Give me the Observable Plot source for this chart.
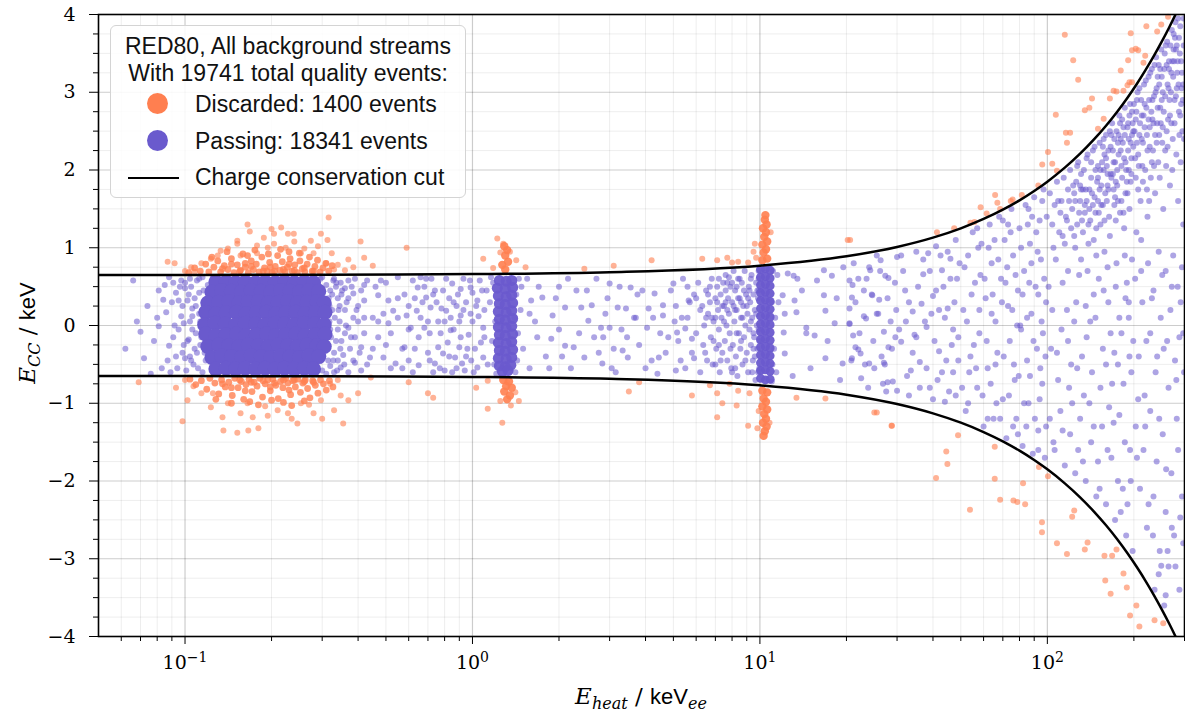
<!DOCTYPE html>
<html><head><meta charset="utf-8">
<script src="https://cdn.jsdelivr.net/npm/d3@7"></script>
<script src="https://cdn.jsdelivr.net/npm/@observablehq/plot@0.6"></script>
<style>
body{margin:0;background:#fff;}
#wrap{position:relative;width:1185px;height:715px;overflow:hidden;}
#legend{position:absolute;left:110px;top:25px;width:356px;height:173px;border:1.5px solid #d4d4d4;border-radius:6px;background:rgba(255,255,255,0.85);font-family:"Liberation Sans",sans-serif;font-size:23px;color:#111;box-sizing:border-box;}
#legend .t{position:absolute;left:0;width:100%;text-align:center;height:28px;line-height:28px;white-space:nowrap;}
#legend .r{position:absolute;left:84px;height:28px;line-height:28px;white-space:nowrap;}
#legend .c{position:absolute;left:36px;width:21px;height:21px;border-radius:50%;}
#legend .l{position:absolute;left:17px;width:51px;height:0;border-top:2.5px solid #000;}
</style></head><body><div id="wrap"></div>
<script>
// ---- data (x = E_heat in keV_ee, y = E_CC in keV) ----
const P = s => s.trim().split(/\s+/).map(t => t.split(",").map(Number));

const legendTitle = ["RED80, All background streams", "With 19741 total quality events:"];
const seriesNames = ["Discarded: 1400 events", "Passing: 18341 events", "Charge conservation cut"];
const seriesColors = ["#ff7f50", "#6a5acd"];

const xMajor = [0.1, 1, 10, 100];
const xTickExp = ["−1", "0", "1", "2"];
const xMinor = [0.06,0.07,0.08,0.09,0.2,0.3,0.4,0.5,0.6,0.7,0.8,0.9,2,3,4,5,6,7,8,9,20,30,40,50,60,70,80,90,200,300];
const yMajor = [-4,-3,-2,-1,0,1,2,3,4];
const yMinor = [-3.75,-3.5,-3.25,-2.75,-2.5,-2.25,-1.75,-1.5,-1.25,-0.75,-0.5,-0.25,0.25,0.5,0.75,1.25,1.5,1.75,2.25,2.5,2.75,3.25,3.5,3.75];

// charge conservation cut (upper branch); lower branch is its mirror
const cutX = [0.05,0.1,0.3,1,3,10,20,30,40,50,60,70,80,90,100,115,130,145,160,175,190,205,220,235,250,265,280,300];
const cutY = [0.651,0.651,0.654,0.662,0.686,0.77,0.89,1.01,1.13,1.25,1.37,1.49,1.61,1.73,1.85,2.03,2.21,2.39,2.57,2.75,2.93,3.11,3.29,3.47,3.65,3.83,4.01,4.25];

// discarded events
const discardedSparse = P(`
.316,1.39 .165,1.30 .168,1.21 .216,1.26 .228,1.18 .239,1.18 .204,1.18 .188,1.13 .152,1.09 .297,1.18 .274,1.09 .313,1.10 .408,1.08 .324,.93 .37,.85 .42,.87 .45,.77 .385,.75 .36,.71 .087,.82 .092,.80 .105,.75 .114,.80 .123,.86 .133,.96 .141,.99 .152,1.05 .178,1.03 .194,1.00 .224,1.00 .26,.99 .28,.93 .253,.93 .178,.93 .156,.90 .13,.90 .204,1.05 .31,.8 .33,.72 .34,.78 .1,.7 .108,.69 .29,1.02 .24,1.08 .2,1.24
.069,-.73 .098,-1.23 .093,-.80 .102,-.96 .114,-.87 .123,-1.05 .136,-1.35 .152,-1.38 .166,-1.35 .18,-1.32 .156,-1.13 .172,-1.18 .194,-1.16 .21,-1.09 .228,-1.13 .246,-1.26 .28,-1.13 .30,-1.20 .355,-1.26 .33,-1.09 .37,-.96 .348,-.90 .40,-.87 .443,-.67 .165,-1.00 .141,-1.00 .253,-1.00 .297,-.96 .125,-.87 .32,-.75 .34,-.7 .1,-.7 .107,-.78 .19,-1.04 .27,-1.02 .235,-1.2 .135,-1.18
.59,1.0 .6,-.73 .7,-.87 .73,-.93 3.8,-.73 3.5,-.85 5.8,-.9 2.45,.73 3.1,.77 4.2,.84
1.22,1.12 1.25,.94 1.09,.86 1.42,.84 1.53,.75 1.03,-.8 1.13,-.71 1.13,-1.07 1.27,-1.25 1.25,-.97 1.36,-1.03 1.45,-.97 1.41,-.86 1.32,-.73 1.28,1.05 1.35,.95 1.18,.74
6.3,.86 7.1,.84 7.7,.87 8.0,.81 8.4,.82 9.1,.81 9.7,.87 6.7,-.77 7.1,-.87 7.1,-1.18 7.4,-1.0 7.85,-.75 8.4,-.84 8.3,-1.03 9.2,-.87 9.1,-1.29 9.8,-1.32 13.4,-.93 16.9,-.94 25.5,-1.12 28.8,-1.29 20.2,1.1 20.6,1.1 9.5,.95 9.9,-1.1 10.9,1.2 10.8,-1.25 9.6,1.05
41.3,1.2 47.4,1.25 54,1.32 55.8,1.33 58.6,1.52 61.5,1.44 65.8,1.68 67,1.58 68.5,1.5 74.6,1.6 75.7,1.62 81.5,1.68 93,1.8 96,2.07 100.5,2.23 104,2.08 108,1.99 116,2.48 120,2.48 117,2.35 107,2.71 128,3.16 123,3.41 115,3.74 135,2.77 140,2.8 143,2.92 150,2.53 157,2.66 165,2.92 170,3.02 174,3.01 180,3.28 184,3.02 190,3.09 193,3.13 197,3.13 191,3.41 197,3.54 195,3.76 203,3.56 207,3.54 216,3.38 219,3.47 221,3.85 241,3.78 249,3.87 263,3.97
25,-1.12 28.7,-1.29 48.9,-1.41 44.5,-1.62 44.9,-1.78 41,-1.96 53.8,-2.37 65.6,-1.56 65.6,-1.97 68.5,-2.24 76.2,-2.25 78.6,-2.27 82.3,-2.03 83.7,-2.3 93.5,-1.82 100.5,-1.94 95.8,-2.53 95.8,-2.66 108,-2.8 117,-2.94 124,-2.38 122,-2.46 138,-2.79 135,-2.88 158,-2.96 168,-2.96 174,-2.88 159,-3.28 166,-3.45 184,-3.19 189,-3.37 204,-3.6 194,-3.73 209,-3.87 236,-3.79 253,-3.83
`);
// discarded events crowding just outside the cut around the 0.2 keV cluster
const discardedNearCut = P(`
.103,.68 .108,.74 .113,.7 .118,.79 .121,.69 .126,.75 .13,.83 .133,.69 .137,.77 .141,.72 .145,.86 .148,.68 .152,.78 .156,.71 .159,.92 .162,.75 .166,.68 .17,.83 .173,.72 .177,.79 .181,.69 .185,.88 .189,.74 .193,.7 .197,.81 .201,.68 .206,.76 .21,.9 .214,.71 .218,.82 .223,.69 .227,.75 .232,.86 .236,.7 .241,.78 .246,.68 .251,.83 .256,.73 .261,.69 .266,.79 .271,.88 .277,.7 .283,.76 .289,.84 .295,.69 .302,.74 .309,.8 .316,.7 .325,.77 .14,.95 .175,.97 .215,.98 .25,.93 .195,.92 .165,.9 .23,.95 .124,.88
.155,.7 .187,.7 .22,.72 .26,.74 .135,.73 .17,.76 .205,.7 .24,.71 .28,.7 .145,.79 .198,.75 .23,.79 .162,.8
.104,-.69 .109,-.76 .114,-.71 .119,-.82 .122,-.68 .127,-.74 .131,-.88 .134,-.7 .138,-.79 .142,-.73 .146,-.9 .149,-.68 .153,-.8 .157,-.72 .16,-.95 .163,-.76 .167,-.69 .171,-.85 .174,-.73 .178,-.78 .182,-.68 .186,-.92 .19,-.75 .194,-.7 .198,-.84 .202,-.69 .207,-.77 .211,-.94 .215,-.72 .219,-.8 .224,-.68 .228,-.74 .233,-.89 .237,-.71 .242,-.79 .247,-.69 .252,-.86 .257,-.74 .262,-.7 .267,-.81 .272,-.93 .278,-.71 .284,-.77 .29,-.87 .296,-.7 .303,-.75 .31,-.83 .318,-.71 .327,-.79 .145,-1.0 .18,-1.02 .22,-.99 .26,-.97 .2,-.96 .168,-.98 .235,-1.03 .128,-.95
.155,-.7 .187,-.71 .22,-.7 .26,-.72 .135,-.75 .17,-.73 .205,-.74 .24,-.7 .28,-.73 .145,-.8 .198,-.79 .23,-.83 .162,-.84
`);
// dense discarded groups at the 1.3 keV and 10.3 keV lines
const discardedLines = P(`
1.28,-.7 1.34,-.72 1.31,-.78 1.37,-.8 1.29,-.85 1.35,-.9 1.32,-.95 1.3,.72 1.27,.78 1.33,.82 1.3,.9 1.32,.97 1.29,1.02
10.2,.84 10.6,.86 10.3,.94 10.5,.98 10.2,1.04 10.6,1.08 10.35,1.14 10.5,1.2 10.25,1.25 10.55,1.3 10.4,1.36 10.45,1.42
10.2,-.84 10.6,-.86 10.3,-.94 10.5,-.98 10.2,-1.04 10.6,-1.08 10.35,-1.14 10.5,-1.2 10.25,-1.25 10.55,-1.3 10.4,-1.36 10.3,-1.42
`);

// passing events: the saturated cluster near 0.2 keV, the 1.3 keV and 10.3 keV lines, and scattered events
const passingLowCluster = P(`
.128,.56 .139,.56 .150,.55 .162,.56 .176,.55 .190,.56 .206,.55 .222,.56 .240,.55 .260,.56 .280,.55
.124,.43 .134,.45 .145,.44 .157,.43 .170,.45 .184,.44 .199,.43 .215,.45 .232,.44 .250,.43 .270,.45 .292,.44
.120,.29 .131,.30 .142,.31 .154,.29 .166,.30 .180,.31 .195,.29 .211,.30 .228,.31 .246,.29 .266,.30 .288,.31 .305,.29
.118,.17 .128,.15 .139,.16 .151,.17 .163,.15 .177,.16 .192,.17 .207,.15 .224,.16 .243,.17 .262,.15 .284,.16 .307,.17
.117,.01 .127,.03 .138,.02 .150,.01 .162,.03 .176,.02 .190,.01 .206,.03 .222,.02 .240,.01 .260,.03 .282,.02 .305,.01
.118,-.11 .128,-.13 .139,-.12 .151,-.11 .163,-.13 .177,-.12 .192,-.11 .207,-.13 .224,-.12 .243,-.11 .262,-.13 .284,-.12 .307,-.11
.120,-.27 .131,-.25 .142,-.26 .154,-.27 .166,-.25 .180,-.26 .195,-.27 .211,-.25 .228,-.26 .246,-.27 .266,-.25 .288,-.26 .305,-.27
.124,-.41 .134,-.39 .145,-.40 .157,-.41 .170,-.39 .184,-.40 .199,-.41 .215,-.39 .232,-.40 .250,-.41 .270,-.39 .292,-.40
.128,-.56 .139,-.55 .150,-.56 .162,-.55 .176,-.56 .190,-.55 .206,-.56 .222,-.55 .240,-.56 .260,-.55 .280,-.56
`);
const passingLine1 = P(`
1.24,.58 1.31,.57 1.37,.58 1.22,.48 1.30,.47 1.38,.49 1.23,.38 1.31,.37 1.37,.39 1.24,.28 1.30,.27 1.38,.29 1.23,.18 1.31,.17 1.37,.19 1.24,.08 1.30,.07 1.38,.09 1.23,-.02 1.31,-.03 1.37,-.01 1.24,-.12 1.30,-.13 1.38,-.11 1.23,-.22 1.31,-.23 1.37,-.21 1.24,-.32 1.30,-.33 1.38,-.31 1.23,-.42 1.31,-.43 1.37,-.41 1.24,-.52 1.30,-.53 1.36,-.51 1.27,-.59 1.33,-.58
`);
const passingLine10 = P(`
10.05,.72 10.45,.73 10.85,.71 10.05,.62 10.45,.63 10.85,.61 10.05,.52 10.45,.53 10.85,.51 10.05,.42 10.45,.43 10.85,.41 10.05,.32 10.45,.33 10.85,.31 10.05,.22 10.45,.23 10.85,.21 10.05,.12 10.45,.13 10.85,.11 10.05,.02 10.45,.03 10.85,.01 10.05,-.08 10.45,-.07 10.85,-.09 10.05,-.18 10.45,-.17 10.85,-.19 10.05,-.28 10.45,-.27 10.85,-.29 10.05,-.38 10.45,-.37 10.85,-.39 10.05,-.48 10.45,-.47 10.85,-.49 10.05,-.58 10.45,-.57 10.85,-.59 10.05,-.68 10.45,-.7 10.85,-.69
`);
const passingLowE = P(`
.066,.58 .068,.05 .072,-.42 .076,-.62 .081,.45 .080,.10 .086,.17 .081,-.01 .088,-.26 .087,-.45 .091,-.15 .095,.32 .097,.58 .091,.55 .099,.03 .098,-.35 .102,.32 .094,-.55 .100,.48 .103,-.18 .101,-.58 .097,.12 .104,.60 .104,-.40 .106,.22 .106,-.05 .093,.42 .089,-.6 .084,.33 .078,-.2 .074,.25 .07,-.08 .062,-.3 .088,.62
.105,.5 .108,.35 .11,.58 .102,-.2 .104,.05 .107,-.5 .11,-.35 .112,.15 .095,-.05 .098,.25 .1,-.42 .115,-.6 .115,.62 .32,.45 .325,.2 .33,-.35 .335,.5 .34,-.05 .345,.25 .35,.4 .32,-.52 .335,-.2 .36,-.1 .365,.3 .375,-.3 .38,.5 .39,-.48 .4,.05 .41,.45 .3,.62 .31,-.62 .125,.62 .125,-.6
.112,.42 .109,-.1 .113,-.25 .116,.3 .318,.05 .322,-.15 .316,.35 .328,.58 .315,-.45 .118,-.45 .12,.52 .296,.6 .3,-.58
.1,.55 .103,.4 .106,.12 .108,-.3 .111,-.55 .113,.05 .109,.25 .105,-.45 .112,.6 .114,-.15 .116,.45 .117,-.35 .096,.5 .099,-.25 .092,.0 .09,.3 .093,-.4 .085,.52 .083,-.55
.31,.52 .315,-.3 .318,.25 .32,-.05 .325,.4 .328,-.45 .332,.1 .336,.55 .338,-.58 .342,.2 .347,-.3 .352,.45 .358,-.5 .363,.0 .37,.35 .378,-.15 .39,.6 .395,.2 .405,-.35 .42,.1
.348,.55 .37,.58 .43,.58 .48,.58 .55,.62 .385,.41 .42,.32 .47,.39 .51,.32 .53,.19 .49,.15 .45,.10 .385,.10 .37,-.03 .42,-.10 .47,-.15 .51,.03 .55,.10 .41,-.28 .44,-.41 .49,-.41 .54,-.49 .385,-.45 .348,-.54 .41,-.58 .37,-.60 .34,.35 .35,-.2 .36,.2 .345,.05 .355,-.38 .34,-.45 .36,.48 .39,-.15 .4,.25 .33,.6 .33,-.6 .43,-.5 .46,.5 .5,-.25 .52,-.55 .57,-.3 .58,.4 .6,-.05
.59,.13 .645,.49 .69,.36 .74,.45 .79,.45 .85,.54 .91,.47 .985,.49 .64,.19 .715,.23 .81,.19 .91,.13 .985,.15 .58,-.28 .65,-.15 .71,-.10 .76,-.28 .79,-.36 .87,-.41 .92,-.49 .65,-.51 .74,-.49 .80,-.58 .85,-.60 .94,-.58 .61,-.03 .68,-.03 .775,-.10 .84,-.06 1.04,.32 1.09,-.03 1.09,-.41 1.04,-.54 .91,-.15 .96,-.30 .70,-.35
.62,.58 .67,.3 .72,.6 .76,.05 .83,.35 .88,.25 .93,.6 1.0,.05 1.06,.58 1.1,.2 .6,-.45 .63,.35 .7,.05 .73,-.6 .78,.22 .82,-.22 .86,-.05 .89,.4 .95,.3 .97,-.12 1.02,-.3 1.07,-.22 1.12,.45 1.13,-.5 .66,.62 .75,.3 .84,.1 .9,-.28 1.0,.42 1.05,.12
.42,.52 .45,-.3 .47,.05 .5,.55 .52,-.1 .55,.35 .57,-.55 .6,.25 .63,-.3 .66,.1 .68,.5 .71,-.45 .73,.4 .77,-.55 .8,.05 .83,-.4 .86,.3 .88,-.55 .93,.2 .95,-.4 .98,.58 1.01,-.6 1.03,.25 1.08,.45 1.1,-.15 .62,-.6 .69,.6 .81,.6 .9,.05 .99,-.45
1.15,.3 1.17,-.2 1.18,.55 1.19,-.5 1.2,.05 1.42,.4 1.44,-.1 1.45,.6 1.43,-.45 1.47,.2 1.5,-.3 1.41,-.6 1.16,.62 1.48,.5 1.21,-.62 1.4,.1
1.6,.32 1.75,.36 1.9,.13 1.68,-.15 1.88,-.17 1.58,-.55 2.1,.23 2.39,.23 2.6,.26 2.53,.06 2.8,-.03 3.0,-.03 2.1,-.26 2.25,-.28 2.45,-.41 2.65,-.15 2.85,-.15 2.83,-.49 3.0,.54 3.2,.23 3.42,.22 3.55,.49 3.65,.10 3.33,-.32 3.47,-.41 3.15,-.60 3.7,.10 4.1,.22 4.3,.41 4.6,.13 4.6,.26 5.0,.54 4.05,-.03 4.5,-.10 4.8,-.15 5.15,-.09 5.5,-.04 4.45,-.41 5.1,-.58 4.4,-.62 5.65,.32 5.8,-.17 5.9,-.42 5.35,.10
1.55,.6 1.8,-.4 2.0,.5 2.2,-.55 2.3,.45 2.7,.6 2.95,.35 3.3,-.05 3.8,-.25 3.9,.45 4.2,-.45 4.9,.45 5.2,-.2 5.4,.6 5.5,-.55 2.0,-.05 1.65,.05 3.1,-.3 5.05,.05 5.7,.3
1.58,.15 1.7,.5 1.85,-.55 1.95,.35 2.05,-.4 2.15,.6 2.35,-.1 2.5,.45 2.75,-.35 2.9,.15 3.05,-.55 3.25,.5 3.45,-.15 3.75,.4 4.0,-.55 4.25,.1 4.7,-.35 5.1,.25 5.3,-.45 5.6,.5
`);
const passingMidE = P(`
5.6,.1 5.8,-.35 5.9,.4 6.0,-.1 6.1,.55 6.2,-.6 6.3,.25 6.35,-.25 6.4,.0 6.5,.45 6.55,-.45 6.6,.15 6.7,.3 6.75,-.15 6.8,.6 6.85,-.5 6.9,.05 7.0,.35 7.05,-.3 7.1,.5 7.15,.2 7.2,-.05 7.25,-.6 7.3,.4 7.35,.1 7.4,-.35 7.45,.55 7.5,.25 7.55,-.2 7.6,.65 7.65,.0 7.7,-.45 7.75,.35 7.8,.15 7.85,-.1 7.9,.5 7.95,-.55 8.0,.3 8.05,-.25 8.1,.7 8.15,.05 8.2,.45 8.25,-.4 8.3,.2 8.35,-.65 8.4,.6 8.45,-.1 8.5,.35 8.55,-.3 8.6,.1 8.65,.55 8.7,-.5 8.75,.25 8.8,-.15 8.85,.7 8.9,.0 8.95,.4 9.0,-.35 9.05,.15 9.1,-.6 9.15,.5 9.2,-.05 9.25,.3 9.3,-.25 9.35,.65 9.4,.1 9.45,-.45 9.5,.4 9.55,-.15 9.6,.2 9.65,-.7 9.7,.55 9.75,.0 9.8,-.3 9.85,.35 9.9,.6 9.95,-.55
7.0,.1 7.6,.45 8.2,.2 6.6,.4 7.2,.6 8.0,.55 7.4,.25 8.4,.35 8.8,.45 7.8,.62 9.0,.25 9.3,.05 9.6,-.4 8.6,-.2 7.7,.2 8.3,.5 9.2,.45 9.5,-.1
6.2,.2 6.45,-.35 6.7,.5 6.9,-.2 7.1,.3 7.3,-.45 7.5,.05 7.7,.55 7.9,-.3 8.1,.25 8.3,-.1 8.5,.6 8.7,.1 8.9,-.45 9.1,.35 9.3,.6 9.5,-.3 9.7,.15 9.8,.45 9.9,-.05 8.0,-.6 7.2,-.25 6.8,.1 7.6,.3 8.6,.3 9.4,-.6 8.2,-.55 7.0,-.5 6.5,.1 6.0,.35
9.9,.45 9.95,-.2 11.0,.3 11.05,-.5 9.85,-.6 11.1,.7 9.9,.7 11.0,-.72 11.2,-.3 11.3,.1 11.4,-.6 11.6,.3 11.5,.65
12,.39 12.2,.15 12.1,-.09 12.2,-.36 13.2,.32 13.4,.17 12.5,.67 13.1,.64 13.5,.6 14.5,-.03 14.5,-.1 15.5,-.13 15.8,.58 16.7,.71 17.8,.64 16.7,.39 16.9,.19 18.2,.03 16.9,-.42 19.4,-.49 19.5,.75 20.5,.58 20.9,.36 20.5,.22 20.5,.03 21.1,-.13 21.5,-.28 20.9,-.42 23,.45 24.2,.71 24.6,.39 25.5,.15 26.3,.84 27.3,.64 28,-.28 27,-.48 29.6,-.15 27.8,-.73 30,-.84 23.4,.09 24,-.49 22.4,-.36 14,.45 15,-.55 18.5,.35 19,-.7 17.2,-.2 13,-.65 22,.6
`);
const passingHighE = P(`
21,.52 22,-.31 23,.12 24,.75 25,-.55 26,.33 27,-.08 28,.61 29,-.72 30,.88 31,-.21 32,.45 33,-.9 34,.18 35,.95 36,-.47 37,.66 38,-.02 39,-.8 40,.38 41,1.02 42,-.33 43,.71 44,-.98 45,.22 46,.86 47,-.6 48,1.1 49,-.15 22.5,-.68 24.5,.4 26.5,-.4 28.5,.05 31.5,.7 33.5,-.58 36.5,.28 38.5,.93 41.5,-.7 43.5,.5 46.5,-.25 48.5,.6 20.5,.02 25.5,.9 27.5,-.85 34.5,-.12 39.5,.15 44.5,-.45 47.5,.3
20.8,-.45 21.5,.3 22.2,-.1 23.5,.6 23.8,-.8 24.8,-.2 25.8,.15 26.2,.7 27.2,-.5 27.8,.35 28.8,-.3 29.5,.55 30.5,-.05 31,.9 32.5,-.65 33,.3 34,-.35 35.5,.5 36,-.8 37.5,.05 38,-.55 39,.7 40.5,-.2 41,.45 42.5,.9 43,-.6 44,.1 45.5,-.85 46,.6 47,-.05 48,-.9 49.5,.8 21.2,.8 23.2,-.5 26.8,-.75 29.8,.2 32.2,.05 35,-.15 37,.85 40,-.95 42,.2 45,.95 49,-.45
51,.2 52,-1.1 53,.9 54,-.4 55,1.2 56,.55 57,-.8 58,-.1 59,1.05 60,-1.3 61,.35 62,-.55 63,1.3 64,.8 65,-1.2 66,.05 67,-.35 68,1.4 69,.6 70,-.95 71,1.1 72,-1.45 73,.25 74,-.2 75,1.5 76,.9 77,-.7 78,-1.2 79,.45 80,1.25 81,-.05 82,-1.55 83,.7 84,1.55 85,-.45 86,-1.0 87,1.05 88,.15 89,-1.65 90,1.65 91,.5 92,-.3 93,-1.35 94,1.35 95,.85 96,-.75 97,1.75 98,-1.7 99,.3 55.5,-.25 58.5,.65 62.5,1.0 66.5,-1.0 72.5,.75 76.5,-.5 80.5,.0 84.5,-1.3 88.5,1.4 92.5,.95 96.5,-.1 53.5,-.6 64.5,.4 74.5,1.2 86.5,.55 94.5,-.55
50.5,-.8 51.5,.75 52.5,.05 53,-1.0 54.5,.4 56.5,-.55 57.5,1.0 58,.2 59.5,-.9 60.5,.6 61.5,-.2 63.5,-.75 64,.15 65.5,1.1 66,-.5 67.5,.85 68.5,-1.2 69.5,.3 70.5,-.4 71.5,.55 73,1.3 73.5,-.9 75.5,.2 76,-1.3 77.5,.65 78.5,.0 79.5,-.65 81,1.0 82,.4 83,-1.0 85,.1 85.5,1.3 87,-.65 88,.8 89.5,-.2 90.5,-1.2 91.5,1.2 93,.4 94,-.95 95.5,.05 97.5,.6 98.5,-.4 99.5,1.4 99,-1.3 57,1.25 62,-1.2 70,1.35 79,-1.4 86,1.5 93,-1.6 96,1.6
102,1.7 104,1.3 106,1.55 108,1.85 110,1.2 112,1.6 114,1.9 116,1.4 118,1.75 120,2.0 122,1.5 124,1.15 126,1.85 128,2.1 130,1.6 132,1.35 134,2.0 136,1.75 138,2.2 140,1.5 142,1.9 144,2.25 146,1.65 148,1.25 150,2.05 152,2.35 154,1.8 156,1.55 158,2.2 160,2.45 162,1.95 164,1.4 166,2.3 168,2.6 170,1.75 172,2.1 174,2.5 176,1.6 178,2.7 180,2.25 182,1.9 184,2.55 186,2.8 188,2.0 190,1.7 192,2.4 194,2.85 196,2.15 198,2.6
111,1.45 115,1.05 119,1.6 123,1.8 127,1.3 131,1.95 135,1.55 139,1.05 143,1.7 147,2.0 151,1.45 155,2.1 159,1.7 163,2.25 167,1.9 171,2.4 175,2.0 179,1.45 183,2.35 187,2.1 191,2.6 195,1.85 199,2.3 105,1.0 125,1.0 145,1.1 165,1.15 185,1.25 113,1.15 133,1.2 153,1.3 173,1.35 193,1.5 141,1.35 161,1.6 181,1.6 157,2.4 177,2.45 197,2.75 149,1.85 169,1.95
121,1.25 124,1.7 127,2.05 129,1.45 133,1.75 137,2.15 139,1.3 144,1.55 146,2.3 150,1.6 153,2.0 156,2.3 158,1.35 161,2.05 163,1.75 165,2.5 169,2.25 171,1.55 173,1.85 176,2.35 179,2.6 181,2.05 184,1.45 186,2.45 189,1.85 191,2.25 193,2.7 196,1.95 199,2.5
125,1.6 131,1.75 137,1.6 142,2.1 147,1.45 152,1.75 157,2.0 162,1.8 167,2.45 172,1.65 177,2.2 182,2.65 187,1.7 192,2.0 197,2.45 180,2.4 170,2.1 160,2.15 150,1.9 140,1.75 130,1.8 190,2.55
101,.5 103,-.3 107,.85 109,-.7 117,.2 121,-.5 129,.65 137,-.15 145,.4 153,-.8 162,.75 171,-.35 178,.1 189,.55 196,-.6 112,-.05 126,.3 134,-.9 148,.9 166,-.1 184,-.75 192,.3 141,.05 157,.45 174,.8 199,-.2 118,.7 132,-.4 160,-.5 186,.9
104,.2 108,-.35 113,.55 119,-.8 124,.05 127,-.55 131,.85 136,.25 143,-.6 147,.1 151,.6 156,-.3 163,.3 168,-.75 173,.5 181,-.1 187,.35 193,-.4 197,.85 118,-.2 138,.7 158,.95 176,-.5 192,.1
102,-1.2 106,-1.6 111,-1.1 115,-1.8 120,-1.4 125,-1.9 130,-1.2 136,-2.0 142,-1.5 148,-2.2 155,-1.3 160,-2.3 167,-1.7 172,-2.5 178,-1.15 183,-2.1 188,-2.7 194,-1.6 198,-2.9 150,-1.75 176,-2.0 164,-1.05 190,-2.3 128,-1.6 140,-1.0
105,-1.5 113,-1.35 122,-1.0 133,-1.75 145,-1.3 152,-2.1 162,-1.6 170,-1.25 180,-2.4 186,-1.5 195,-2.0
201,2.5 203,1.9 205,2.9 207,2.2 209,3.05 211,1.6 213,2.7 215,2.35 217,3.1 219,2.0 221,2.8 223,1.4 225,3.2 227,2.55 229,1.9 231,3.3 233,2.25 235,2.95 237,1.7 239,3.45 241,2.6 243,2.1 245,3.1 247,2.8 249,3.55 251,2.35 253,1.5 255,3.3 257,2.95 259,2.05 261,3.65 263,2.65 265,3.4 267,1.8 269,3.0 271,3.8 273,2.4 275,3.55 277,2.9 279,3.9 281,2.2 283,3.25 285,1.6 287,2.75 289,3.5 291,2.1 293,3.05 295,2.5 297,1.3
204,1.2 212,1.1 222,2.45 232,2.65 242,3.2 252,3.0 262,2.3 272,2.0 282,3.6 292,2.85 226,1.6 246,1.9 266,2.9 286,3.1 236,3.35 256,3.5 276,3.4 216,2.7 206,3.0 298,3.6
202,2.15 204,2.75 207,1.75 209,2.45 212,2.9 214,2.05 218,2.55 220,3.15 223,2.25 226,2.9 228,3.25 231,2.1 234,2.6 238,3.0 240,2.35 244,3.35 248,2.6 250,3.2 254,2.75 258,3.6 260,2.5 264,3.05 268,3.6 270,2.6 274,3.2 278,3.7 280,2.95 284,3.4 288,2.45 290,3.85 294,3.25 296,2.9 298,3.95 285,3.95 275,3.75 265,3.3 245,2.45 235,2.05 225,2.65 215,1.85 205,2.35 195,2.35 185,2.15 175,1.8 166,1.95 154,1.55 135,1.45 117,1.35 109,1.6
203,2.65 208,2.05 213,2.4 218,2.85 222,1.75 227,2.3 232,2.9 237,2.45 242,2.8 247,3.3 252,2.55 257,2.25 262,3.1 267,2.7 272,3.4 277,2.6 282,3.05 287,3.7 292,3.4 297,3.1 299,2.4 210,2.6 230,2.75 250,2.9 270,3.25 290,2.7 240,3.05 260,3.35 280,3.55 200,2.85
202,.6 208,-.4 214,.3 218,-.9 224,.8 228,-.1 234,.45 238,-.6 244,.95 248,.1 254,-.3 258,.7 264,-.8 268,.2 274,.9 278,-.45 284,.5 288,-.15 294,.75 299,-.6
207,-.95 212,.7 221,-.2 231,.35 241,-.4 251,.65 261,-.2 271,.5 281,-.7 291,.3 297,-.1
203,-1.3 210,-2.1 216,-1.6 222,-2.6 228,-1.1 234,-2.2 240,-1.75 246,-2.9 252,-1.4 258,-2.4 264,-3.1 270,-1.9 276,-2.7 282,-1.2 288,-3.4 294,-2.2 236,-3.4 255,-3.6 249,-3.09 258,-3.47 290,-2.47
205,-1.7 219,-1.3 233,-2.7 245,-1.2 259,-1.85 271,-2.6 279,-3.1 285,-1.6 297,-2.8 225,-2.3 262,-2.9 244,-3.2
`);

// ---- chart ----
const X = d => d[0], Y = d => d[1];
const cutUpper = cutX.map((x, i) => ({x, y: cutY[i]}));
const cutLower = cutX.map((x, i) => ({x, y: -cutY[i]}));
const expOf = new Map(xMajor.map((v, i) => [v, xTickExp[i]]));
const fmtY = d => d < 0 ? "−" + Math.abs(d) : String(d);
const passingScattered = [...passingLowE, ...passingMidE, ...passingHighE];

const chart = Plot.plot({
  width: 1185, height: 715,
  marginLeft: 98, marginRight: 1, marginTop: 14, marginBottom: 79,
  style: {fontFamily: "DejaVu Serif", fontSize: "19px", background: "#fff", color: "#000"},
  x: {type: "log", domain: [0.05, 300]},
  y: {domain: [-4, 4]},
  marks: [
    Plot.gridX({ticks: xMinor, stroke: "#000", strokeOpacity: 0.07}),
    Plot.gridY({ticks: yMinor, stroke: "#000", strokeOpacity: 0.07}),
    Plot.gridX({ticks: xMajor, stroke: "#000", strokeOpacity: 0.2, strokeWidth: 1.2}),
    Plot.gridY({ticks: yMajor, stroke: "#000", strokeOpacity: 0.2, strokeWidth: 1.2}),
    Plot.dot(discardedSparse, {x: X, y: Y, r: 3, fill: seriesColors[0], fillOpacity: 0.6}),
    Plot.dot(discardedNearCut, {x: X, y: Y, r: 3.4, fill: seriesColors[0], fillOpacity: 0.8}),
    Plot.dot(discardedLines, {x: X, y: Y, r: 4.2, fill: seriesColors[0], fillOpacity: 0.9}),
    Plot.dot(passingScattered, {x: X, y: Y, r: 3, fill: seriesColors[1], fillOpacity: 0.55}),
    Plot.dot(passingLowCluster, {x: X, y: Y, r: 7.5, fill: seriesColors[1], fillOpacity: 1}),
    Plot.dot(passingLine1, {x: X, y: Y, r: 5.5, fill: seriesColors[1], fillOpacity: 0.95}),
    Plot.dot(passingLine10, {x: X, y: Y, r: 4.5, fill: seriesColors[1], fillOpacity: 0.95}),
    Plot.line(cutUpper, {x: "x", y: "y", stroke: "#000", strokeWidth: 2.5, curve: "monotone-x", clip: true}),
    Plot.line(cutLower, {x: "x", y: "y", stroke: "#000", strokeWidth: 2.5, curve: "monotone-x", clip: true}),
    Plot.frame({stroke: "#000", strokeWidth: 1.6}),
    Plot.axisX({ticks: xMinor, tickSize: 5, tickFormat: () => "", label: null}),
    Plot.axisX({ticks: xMajor, tickSize: 8, tickPadding: 11, tickFormat: d => "10|" + expOf.get(d), label: null}),
    Plot.axisY({ticks: yMinor, tickSize: 5, tickFormat: () => "", label: null}),
    Plot.axisY({ticks: yMajor, tickSize: 9, tickPadding: 14, tickFormat: fmtY, label: null})
  ]
});

const svg = d3.select(chart);
svg.selectAll('g[aria-label="x-axis tick label"] text').each(function() {
  const parts = this.textContent.split("|");
  if (parts.length < 2) return;
  this.textContent = parts[0];
  d3.select(this).append("tspan").attr("dy", "-0.5em").attr("font-size", "14px").text(parts[1]);
});

// axis titles
const yl = svg.append("text").attr("transform", "translate(35,333) rotate(-90)").attr("text-anchor", "middle").attr("fill", "#000");
yl.append("tspan").attr("font-family", "DejaVu Serif").attr("font-style", "italic").attr("font-size", "23px").text("E");
yl.append("tspan").attr("font-family", "DejaVu Serif").attr("font-style", "italic").attr("font-size", "16px").attr("dy", 5).text("CC");
yl.append("tspan").attr("font-family", "DejaVu Serif").attr("font-size", "23px").attr("dy", -5).text(" / ");
yl.append("tspan").attr("font-family", "Liberation Sans").attr("font-size", "22px").text("keV");

const xl = svg.append("text").attr("transform", "translate(641,704)").attr("text-anchor", "middle").attr("fill", "#000");
xl.append("tspan").attr("font-family", "DejaVu Serif").attr("font-style", "italic").attr("font-size", "23px").text("E");
xl.append("tspan").attr("font-family", "DejaVu Serif").attr("font-style", "italic").attr("font-size", "16px").attr("dy", 5).text("heat");
xl.append("tspan").attr("font-family", "DejaVu Serif").attr("font-size", "23px").attr("dy", -5).text(" / ");
xl.append("tspan").attr("font-family", "Liberation Sans").attr("font-size", "22px").text("keV");
xl.append("tspan").attr("font-family", "DejaVu Serif").attr("font-style", "italic").attr("font-size", "16px").attr("dy", 5).text("ee");

const wrap = document.getElementById("wrap");
wrap.appendChild(chart);

// legend
const lg = document.createElement("div");
lg.id = "legend";
lg.innerHTML =
  `<div class="t" style="top:6px">${legendTitle[0]}</div>` +
  `<div class="t" style="top:33px">${legendTitle[1]}</div>` +
  `<div class="c" style="top:67px;background:${seriesColors[0]}"></div><div class="r" style="top:64px">${seriesNames[0]}</div>` +
  `<div class="c" style="top:104px;background:${seriesColors[1]}"></div><div class="r" style="top:101px">${seriesNames[1]}</div>` +
  `<div class="l" style="top:151px"></div><div class="r" style="top:137px">${seriesNames[2]}</div>`;
wrap.appendChild(lg);
</script>
</body></html>
